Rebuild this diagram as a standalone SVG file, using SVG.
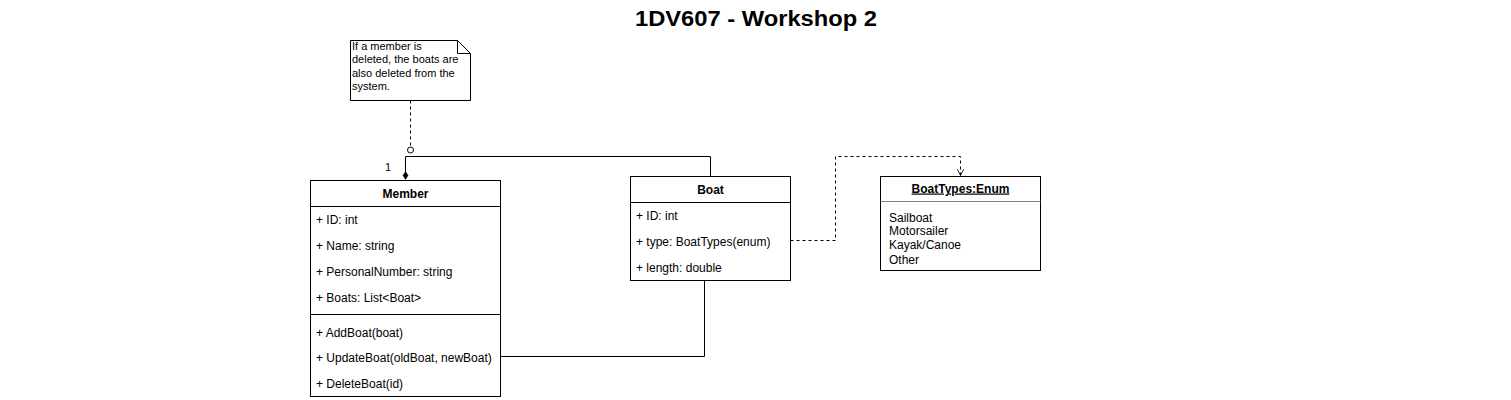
<svg xmlns="http://www.w3.org/2000/svg" width="1511" height="400" viewBox="0 0 1511 400">
<style>
text{font-family:"Liberation Sans",Arial,sans-serif;fill:#000}
.t{font-size:12px}
.b{font-size:12px;font-weight:bold;text-anchor:middle}
.n{font-size:11px}
.box{fill:#fff;stroke:#000;stroke-width:1}
.ln{fill:none;stroke:#000;stroke-width:1}
.dash{fill:none;stroke:#000;stroke-width:1;stroke-dasharray:3 3}
</style>
<defs>
<marker id="open" viewBox="0 0 10 10" refX="9" refY="5" markerWidth="8" markerHeight="8" orient="auto" markerUnits="userSpaceOnUse">
<path d="M1,1 L9,5 L1,9" fill="none" stroke="#000" stroke-width="1"/>
</marker>
</defs>
<rect width="1511" height="400" fill="#fff"/>
<text x="756" y="26" font-size="22" font-weight="bold" text-anchor="middle" textLength="242" lengthAdjust="spacingAndGlyphs">1DV607 - Workshop 2</text>

<g id="connectors">
<path class="dash" d="M410.5,100.5 V147"/>
<circle cx="410.5" cy="150" r="3" fill="#fff" stroke="#000"/>
<path class="ln" d="M405.5,173 V156.5 H710.5 V176.5"/>
<path d="M405.5,171.5 L408,175.5 L405.5,179.5 L403,175.5 Z" fill="#000" stroke="#000" stroke-width="0.5"/>
<text x="385" y="171" class="n">1</text>
<path class="ln" d="M500.5,356.5 H704.5 V280.5"/>
<path class="dash" d="M790.5,240.5 H835.5 V156.5 H960.5 V175.5" marker-end="url(#open)"/>
</g>

<g id="note">
<path class="box" d="M350.5,40.5 H457.5 L470.5,53.5 V100.5 H350.5 Z"/>
<path class="ln" d="M457.5,40.5 V53.5 H470.5"/>
<text class="n" x="352" y="50">If a member is</text>
<text class="n" x="352" y="63.3">deleted, the boats are</text>
<text class="n" x="352" y="76.6">also deleted from the</text>
<text class="n" x="352" y="89.9">system.</text>
</g>

<g id="member">
<rect class="box" x="310.5" y="180.5" width="190" height="216"/>
<path class="ln" d="M310.5,206.5 H500.5 M310.5,314.5 H500.5"/>
<text class="b" x="405.5" y="198">Member</text>
<text class="t" x="316" y="224">+ ID: int</text>
<text class="t" x="316" y="250">+ Name: string</text>
<text class="t" x="316" y="275.5">+ PersonalNumber: string</text>
<text class="t" x="316" y="301.5">+ Boats: List&lt;Boat&gt;</text>
<text class="t" x="316" y="336.5">+ AddBoat(boat)</text>
<text class="t" x="316" y="362">+ UpdateBoat(oldBoat, newBoat)</text>
<text class="t" x="316" y="387.5">+ DeleteBoat(id)</text>
</g>

<g id="boat">
<rect class="box" x="630.5" y="176.5" width="160" height="104"/>
<path class="ln" d="M630.5,202.5 H790.5"/>
<text class="b" x="710.5" y="194">Boat</text>
<text class="t" x="636" y="220">+ ID: int</text>
<text class="t" x="636" y="245.5">+ type: BoatTypes(enum)</text>
<text class="t" x="636" y="271.5">+ length: double</text>
</g>

<g id="boattypes">
<rect class="box" x="880.5" y="176.5" width="160" height="94"/>
<path d="M880.5,201.5 H1040.5" stroke="#808080" stroke-width="1"/>
<text class="b" x="960.5" y="192.5" text-decoration="underline">BoatTypes:Enum</text>
<text class="t" x="889" y="221.5">Sailboat</text>
<text class="t" x="889" y="235">Motorsailer</text>
<text class="t" x="889" y="249">Kayak/Canoe</text>
<text class="t" x="889" y="263.5">Other</text>
</g>
</svg>
